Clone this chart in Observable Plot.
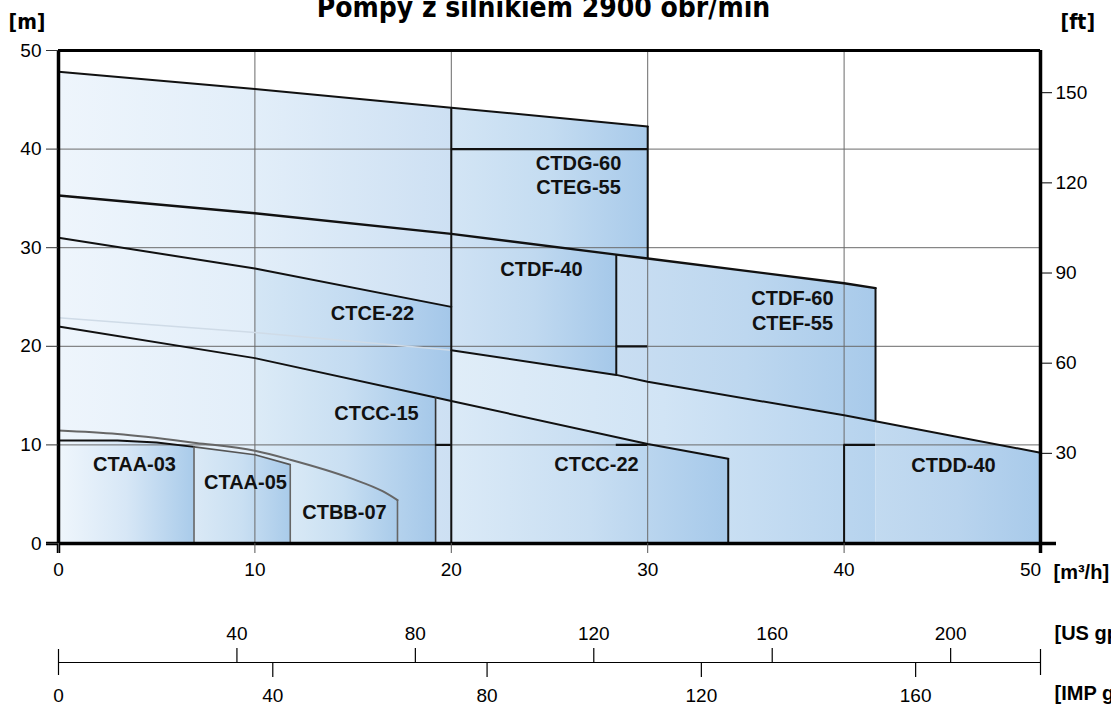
<!DOCTYPE html>
<html><head><meta charset="utf-8">
<script src="https://cdn.jsdelivr.net/npm/d3@7"></script>
<script src="https://cdn.jsdelivr.net/npm/@observablehq/plot@0.6"></script>
<style>body{margin:0;background:#fff}#chart svg{display:block}</style>
</head><body><div id="chart"></div>
<script>
// ---------- data ----------
const title = "Pompy z silnikiem 2900 obr/min";
const xTicks = [0, 10, 20, 30, 40];
const xTickLast = [50];
const xEnds = [0, 50];
const yTicks = [0, 10, 20, 30, 40, 50];
const gridX = [10, 20, 30, 40];
const gridY = [10, 20, 30, 40];
const ftTicks = [30, 60, 90, 120, 150];
const usTicks = [40, 80, 120, 160, 200];
const impTicks = [0, 40, 80, 120, 160];
const M_PER_FT = 0.3048, USG_PER_M3H = 4.40287, IMPG_PER_M3H = 3.66615;

// curves [Q m3/h, H m]
const T1 = [[0,47.85],[10,46.1],[20,44.2],[30,42.3]];
const T2 = [[0,35.3],[10,33.5],[20,31.4],[28.4,29.3],[30,28.9],[40,26.4],[41.6,25.9]];
const L1 = [[0,31.0],[10,27.9],[20,24.0]];
const L3 = [[0,22.9],[10,21.4],[20,19.6],[28.4,17.1],[30,16.4],[40,13.0],[41.6,12.4],[50,9.2]];
const L4 = [[0,22.0],[10,18.8],[19.2,14.8],[20,14.45],[30,10.1],[34.1,8.6]];
const G1 = [[0,11.45],[3,11.1],[7,10.2],[10,9.4],[11.8,8.5],[14.9,6.6],[16.5,5.3],[17.26,4.4]];
const A5 = [[6.9,9.8],[10,9.0],[11.8,8.0]];
const A3 = [[0,10.45],[3,10.45],[5,10.25],[6.9,9.8]];
const curves = {T1, T2, L1, L3, L4, G1, A5, A3};

// pump coverage regions
const regions = [
  {id:"bg",   top:"T1", bottom:null, x0:0,    x1:20},
  {id:"dg",   top:"T1", bottom:"T2", x0:20,   x1:30},
  {id:"df40", top:"T2", bottom:"L3", x0:20,   x1:28.4},
  {id:"df60", top:"T2", bottom:"L3", x0:28.4, x1:41.6},
  {id:"ddA",  top:"L3", bottom:null, x0:20,   x1:41.6},
  {id:"ddB",  top:"L3", bottom:null, x0:41.6, x1:50},
  {id:"ce",   top:"L1", bottom:"L4", x0:10,   x1:20},
  {id:"cc15", top:"L4", bottom:null, x0:10,   x1:19.2},
  {id:"cc22", top:"L4", bottom:null, x0:20,   x1:34.1},
  {id:"bb",   top:"G1", bottom:null, x0:11.8, x1:17.26},
  {id:"aa05", top:"A5", bottom:null, x0:6.9,  x1:11.8},
  {id:"aa03", top:"A3", bottom:null, x0:0,    x1:6.9}
];

// boundary segments
const vSegs = [
  {x:30, y1:28.9, y2:42.3, k:"b"}, {x:20, y1:0, y2:44.2, k:"b"},
  {x:28.4, y1:17.1, y2:29.3, k:"b"}, {x:41.6, y1:12.4, y2:25.9, k:"b"},
  {x:34.1, y1:0, y2:8.6, k:"b"}, {x:40, y1:0, y2:10, k:"b"},
  {x:19.2, y1:0, y2:14.8, k:"d"},
  {x:6.9, y1:0, y2:9.8, k:"g"}, {x:11.8, y1:0, y2:8.0, k:"g"}, {x:17.26, y1:0, y2:4.4, k:"g"}
];
const hSegs = [
  {y:40, x1:20, x2:30}, {y:10, x1:19.2, x2:20}, {y:10, x1:28.4, x2:30},
  {y:10, x1:40, x2:41.6}, {y:20, x1:28.4, x2:30}
];

const labels = [
  {name:"CTDG-60", x:26.48, y:38.5}, {name:"CTEG-55", x:26.48, y:36.1},
  {name:"CTDF-40", x:24.59, y:27.8},
  {name:"CTCE-22", x:15.99, y:23.3},
  {name:"CTDF-60", x:37.37, y:24.85}, {name:"CTEF-55", x:37.37, y:22.3},
  {name:"CTCC-15", x:16.19, y:13.2},
  {name:"CTCC-22", x:27.39, y:8.0},
  {name:"CTDD-40", x:45.57, y:7.9},
  {name:"CTAA-03", x:3.87, y:8.0},
  {name:"CTAA-05", x:9.52, y:6.2},
  {name:"CTBB-07", x:14.56, y:3.15}
];

// ---------- styles ----------
const grads = {
  bg:["#eef5fc","#cde0f3"], dg:["#d3e5f5","#a8caea"], df40:["#cfe2f4","#a5c8e9"],
  df60:["#c9def2","#a8caea"], ddA:["#e0edf8","#b6d3ee"], ddB:["#c2daf0","#a8caea"],
  ce:["#d4e6f5","#a4c7e9"], cc15:["#dcebf7","#a5c8e9"], cc22:["#dbeaf7","#a6c9ea"],
  bb:["#d9e9f6","#a9cbea"], aa05:["#dae9f6","#a9cbea"], aa03:["#eff6fc","#a9cbea"]
};
const segColor = {b:"#111", d:"#333", g:"#666"};
const segWidth = {b:2, d:1.6, g:1.6};
const FONT = "'Liberation Sans', Arial, sans-serif";
const NARROW = "'Liberation Sans Narrow', 'DejaVu Sans Condensed', 'Liberation Sans', sans-serif";

function seg(c, a, b) { return c.filter(p => p[0] >= a - 1e-9 && p[0] <= b + 1e-9); }
function poly(r) {
  const top = seg(curves[r.top], r.x0, r.x1);
  const bot = r.bottom ? seg(curves[r.bottom], r.x0, r.x1).slice().reverse() : [[r.x1, 0], [r.x0, 0]];
  return [...top, ...bot];
}

const defsMark = () => {
  const defs = d3.create("svg:defs");
  for (const [id, [c0, c1]] of Object.entries(grads)) {
    const g = defs.append("linearGradient").attr("id", "g-" + id)
      .attr("x1", 0).attr("x2", 1).attr("y1", 0).attr("y2", 0);
    g.append("stop").attr("offset", 0).attr("stop-color", c0);
    g.append("stop").attr("offset", 0.5).attr("stop-color", d3.interpolateRgb(c0, c1)(0.35));
    g.append("stop").attr("offset", 1).attr("stop-color", c1);
  }
  return defs.node();
};

const fills = regions.map(r => Plot.line(poly(r), {fill: `url(#g-${r.id})`, stroke: "none"}));

const chart = Plot.plot({
  width: 1111, height: 705,
  marginLeft: 58, marginRight: 71, marginTop: 50, marginBottom: 162,
  x: {domain: [0, 50]}, y: {domain: [0, 50]},
  style: {fontFamily: FONT, background: "#fff", color: "#000", overflow: "hidden"},
  marks: [
    defsMark,
    ...fills,
    Plot.ruleX(gridX, {stroke: "#6a6a6a", strokeWidth: 1}),
    Plot.ruleY(gridY, {stroke: "#6a6a6a", strokeWidth: 1}),
    // curves
    Plot.line(T1, {stroke: "#111", strokeWidth: 2}),
    Plot.line(T2, {stroke: "#111", strokeWidth: 2.4}),
    Plot.line(L1, {stroke: "#111", strokeWidth: 2}),
    Plot.line(seg(L3, 0, 20), {stroke: "#cfdbe7", strokeWidth: 1.6}),
    Plot.line(seg(L3, 20, 50), {stroke: "#111", strokeWidth: 2}),
    Plot.line(L4, {stroke: "#111", strokeWidth: 2}),
    Plot.line(G1, {stroke: "#666", strokeWidth: 2, curve: "monotone-x"}),
    Plot.line(A5, {stroke: "#555", strokeWidth: 1.6}),
    Plot.line(A3, {stroke: "#111", strokeWidth: 2}),
    Plot.ruleX(vSegs, {x: "x", y1: "y1", y2: "y2", stroke: d => segColor[d.k], strokeWidth: d => segWidth[d.k]}),
    Plot.ruleY(hSegs, {y: "y", x1: "x1", x2: "x2", stroke: "#111", strokeWidth: 2.2}),
    // labels
    Plot.text(labels, {x: "x", y: "y", text: "name", fontWeight: "bold", fontSize: 20, fill: "#111", fontFamily: FONT}),
    // frame
    Plot.ruleY([50], {strokeWidth: 3}),
    Plot.ruleX(xEnds, {strokeWidth: 3.5, insetBottom: -10}),
    Plot.ruleY([0], {strokeWidth: 3.5, insetLeft: -12, insetRight: -16}),
    // axes
    Plot.axisY(yTicks, {anchor: "left", tickSize: 12, tickPadding: 5, fontSize: 19, label: null, stroke: "#333"}),
    Plot.axisY(ftTicks.map(f => f * M_PER_FT), {anchor: "right", tickFormat: d => String(Math.round(d / M_PER_FT)), tickSize: 11, tickPadding: 4, fontSize: 19, label: null}),
    Plot.axisX(xTicks, {anchor: "bottom", tickSize: 10, tickPadding: 9, fontSize: 19, label: null, stroke: "#555"}),
    Plot.axisX(xTickLast, {anchor: "bottom", tickSize: 0, tickPadding: 19, fontSize: 19, label: null, dx: -10}),
    Plot.text(["[m³/h]"], {text: d => d, frameAnchor: "bottom-right", lineAnchor: "middle", dx: 13, dy: 29, textAnchor: "start", fontWeight: "bold", fontSize: 20}),
    // secondary flow axes
    Plot.ruleY([0], {dy: 119, strokeWidth: 1.2}),
    Plot.ruleX(usTicks, {x: d => d / USG_PER_M3H, insetTop: 598, insetBottom: -119, strokeWidth: 1.2}),
    Plot.ruleX(impTicks.filter(d => d > 0), {x: d => d / IMPG_PER_M3H, insetTop: 612, insetBottom: -134, strokeWidth: 1.2}),
    Plot.ruleX(xEnds, {insetTop: 599, insetBottom: -132, strokeWidth: 1.2}),
    Plot.text(usTicks, {x: d => d / USG_PER_M3H, text: d => String(d), frameAnchor: "bottom", lineAnchor: "middle", dy: 90, fontSize: 19}),
    Plot.text(impTicks, {x: d => d / IMPG_PER_M3H, text: d => String(d), frameAnchor: "bottom", lineAnchor: "middle", dy: 152, fontSize: 19}),
    Plot.text(["[US gpm]"], {text: d => d, frameAnchor: "bottom-right", lineAnchor: "middle", dx: 14, dy: 90, textAnchor: "start", fontWeight: "bold", fontSize: 20}),
    Plot.text(["[IMP gpm]"], {text: d => d, frameAnchor: "bottom-right", lineAnchor: "middle", dx: 14, dy: 150, textAnchor: "start", fontWeight: "bold", fontSize: 20}),
    // title and units
    Plot.text([title], {text: d => d, frameAnchor: "top", lineAnchor: "middle", dx: -6, dy: -42, fontSize: 28, fontWeight: "bold", fontFamily: NARROW}),
    Plot.text(["[m]"], {text: d => d, frameAnchor: "top-left", lineAnchor: "middle", dx: -50, dy: -28, textAnchor: "start", fontSize: 21, fontWeight: "bold", fontFamily: NARROW}),
    Plot.text(["[ft]"], {text: d => d, frameAnchor: "top-right", lineAnchor: "middle", dx: 20, dy: -28, textAnchor: "start", fontSize: 21, fontWeight: "bold", fontFamily: NARROW})
  ]
});
document.getElementById("chart").appendChild(chart);
</script></body></html>
